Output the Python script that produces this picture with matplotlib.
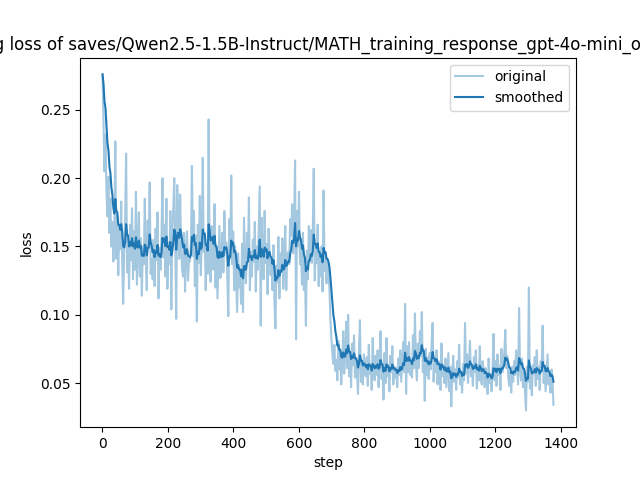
import numpy as np
import matplotlib
matplotlib.use("Agg")
import matplotlib.pyplot as plt

loss_milli = [
    276, 240, 205, 232, 190, 172, 201, 160, 185, 150, 168, 139,
    158, 227, 141, 172, 129, 165, 148, 183, 139, 108,
    145, 170, 218, 131, 152, 119, 166, 140, 178, 126,
    161, 133, 190, 122, 147, 175, 128, 156, 114, 150,
    137, 185, 144, 118, 169, 152, 197, 130, 141, 126,
    155, 121, 163, 140, 175, 112, 149, 133, 158, 200,
    142, 166, 128, 185, 119, 153, 137, 176, 104, 160,
    178, 200, 152, 97, 195, 172, 141, 188, 150, 133,
    128, 160, 117, 146, 161, 125, 140, 139, 152, 209,
    143, 176, 121, 158, 95, 166, 138, 187, 129, 154,
    215, 146, 160, 118, 152, 130, 243, 145, 124, 165,
    158, 133, 181, 120, 149, 112, 138, 165, 127, 142,
    160, 131, 176, 145, 153, 128, 99, 170, 141, 202,
    137, 161, 118, 150, 126, 102, 145, 120, 133, 108,
    152, 102, 171, 135, 123, 160, 141, 186, 118, 146,
    128, 155, 139, 168, 117, 150, 133, 162, 194, 92,
    171, 141, 126, 176, 138, 152, 115, 163, 147, 129,
    140, 118, 151, 109, 90, 136, 124, 157, 112, 145,
    131, 156, 119, 138, 165, 118, 143, 146, 137, 170,
    158, 181, 145, 169, 213, 82, 176, 150, 190, 137,
    149, 122, 160, 118, 133, 92, 147, 126, 165, 141,
    162, 138, 161, 207, 125, 150, 138, 166, 121, 145,
    128, 150, 117, 191, 132, 146, 123, 140,
    131, 118, 96, 82, 71, 64, 78, 59, 67,
    52, 81, 60, 73, 49, 66, 88, 57, 70, 95,
    61, 100, 55, 72, 47, 79, 63, 85, 54, 68,
    58, 42, 74, 96, 51, 66, 49, 71, 60, 55,
    69, 48, 78, 57, 64, 45, 83, 59, 52, 70,
    56, 74, 47, 66, 88, 53, 61, 38, 72, 50,
    83, 55, 63, 44, 70, 58, 77, 49, 62, 54,
    61, 47, 68, 56, 74, 51, 65, 80, 58, 108,
    42, 77, 58, 80, 56, 66, 54, 85, 61, 101,
    64, 52, 79, 61, 88, 70, 102, 58, 73, 37,
    75, 56, 69, 53, 72, 60, 80, 94, 51, 66,
    58, 74, 49, 66, 61, 45, 79, 55, 63, 50,
    68, 47, 59, 72, 44, 62, 33, 57, 70, 51,
    60, 45, 66, 54, 78, 49, 58, 43, 64, 52,
    94, 57, 71, 50, 66, 81, 55, 62, 48, 69,
    58, 74, 46, 63, 52, 77, 55, 49, 66, 59,
    47, 61, 53, 42, 68, 50, 57, 44, 59, 86,
    52, 66, 48, 71, 56, 63, 45, 75, 58, 67,
    72, 89, 61, 70, 54, 48, 58, 43, 62, 51,
    66, 56, 74, 63, 49, 105, 60, 52, 68, 47,
    58, 44, 30, 62, 51, 120, 46, 55, 41, 63,
    57, 69, 48, 74, 53, 62, 45, 66, 59, 92,
    50, 63, 44, 58, 71, 49, 56, 43, 60, 52, 34,
]
first_step = 1
log_every = 3
save_dir = "saves/Qwen2.5-1.5B-Instruct/MATH_training_response_gpt-4o-mini_origin/lora"


def smooth(scalars, weight=0.8):
    # exponential moving average, like the trainer's loss plot
    last = scalars[0]
    out = []
    for v in scalars:
        last = last * weight + (1 - weight) * v
        out.append(last)
    return out


loss = [v / 1000 for v in loss_milli]
steps = first_step + log_every * np.arange(len(loss))

plt.figure(figsize=(6.4, 4.8), dpi=100)
plt.plot(steps, loss, color="#1f77b4", alpha=0.4, label="original")
plt.plot(steps, smooth(loss), color="#1f77b4", label="smoothed")
plt.legend()
plt.title("training loss of {}".format(save_dir))
plt.xlabel("step")
plt.ylabel("loss")
plt.savefig("out.png", dpi=100)
